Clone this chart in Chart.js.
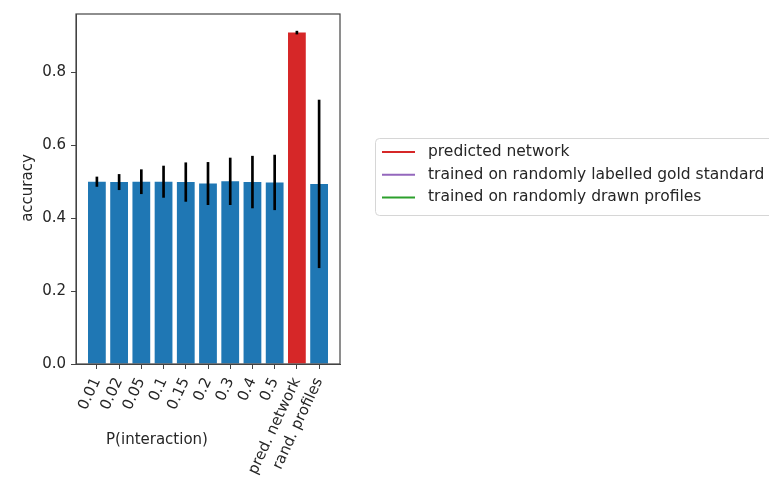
<!DOCTYPE html>
<html>
<head>
<meta charset="utf-8">
<script src="https://cdn.jsdelivr.net/npm/chart.js@4/dist/chart.umd.min.js"></script>
<style>
  html, body { margin: 0; padding: 0; background: #fff; }
  #wrap { width: 769px; height: 481px; }
</style>
</head>
<body>
<div id="wrap"><canvas id="bar-chart" width="769" height="481"></canvas></div>
<script>
// tick labels along the x axis
const labels = ['0.01', '0.02', '0.05', '0.1', '0.15', '0.2', '0.3', '0.4', '0.5', 'pred. network', 'rand. profiles'];
// mean accuracy per bar
const accuracy = [0.500, 0.499, 0.500, 0.500, 0.499, 0.495, 0.501, 0.499, 0.498, 0.909, 0.494];
// half length of the error bars
const errors = [0.013, 0.021, 0.033, 0.043, 0.053, 0.058, 0.064, 0.071, 0.075, 0.004, 0.230];
const barColors = ['#1f77b4', '#1f77b4', '#1f77b4', '#1f77b4', '#1f77b4', '#1f77b4', '#1f77b4', '#1f77b4', '#1f77b4', '#d62728', '#1f77b4'];
const yTicks = [0, 0.2, 0.4, 0.6, 0.8];

const legendLabels = ['predicted network', 'trained on randomly labelled gold standard', 'trained on randomly drawn profiles'];
const legendColors = ['#d62728', '#9467bd', '#2ca02c'];

const FONT = 'DejaVu Sans';
const INK = '#262626';
const AXIS = '#444';

const barData = accuracy.map((v, i) => ({x: i, y: v}));
const errData = accuracy.map((v, i) => ({x: i, y: [v - errors[i], v + errors[i]]}));

// frame, axis titles and the legend
const decorations = {
    id: 'decorations',
    afterDraw(chart) {
        const ctx = chart.ctx;
        const a = chart.chartArea;
        ctx.save();
        ctx.strokeStyle = AXIS;
        ctx.lineWidth = 1.2;
        ctx.strokeRect(a.left, a.top, a.right - a.left, a.bottom - a.top);

        ctx.fillStyle = INK;
        ctx.font = '15px "' + FONT + '"';
        ctx.textAlign = 'center';
        ctx.textBaseline = 'middle';
        ctx.fillText('P(interaction)', 157, 440);

        ctx.save();
        ctx.translate(28, 188);
        ctx.rotate(-Math.PI / 2);
        ctx.fillText('accuracy', 0, 0);
        ctx.restore();

        // legend box
        const bx = 375, by = 138, bw = 410, bh = 77;
        ctx.fillStyle = 'rgba(255,255,255,0.8)';
        ctx.strokeStyle = '#d6d6d6';
        ctx.lineWidth = 1;
        ctx.beginPath();
        ctx.roundRect(bx + 0.5, by + 0.5, bw, bh, 4);
        ctx.fill();
        ctx.stroke();

        ctx.font = '15.5px "' + FONT + '"';
        ctx.textAlign = 'left';
        legendLabels.forEach((t, i) => {
            const yy = 152 + i * 22.7;
            ctx.strokeStyle = legendColors[i];
            ctx.lineWidth = 2;
            ctx.beginPath();
            ctx.moveTo(382, yy);
            ctx.lineTo(415, yy);
            ctx.stroke();
            ctx.fillStyle = INK;
            ctx.fillText(t, 428, yy);
        });
        ctx.restore();
    }
};

new Chart(document.getElementById('bar-chart'), {
    type: 'bar',
    data: {
        datasets: [
            {
                label: 'error',
                data: errData,
                backgroundColor: '#000',
                barThickness: 2,
                grouped: false,
                order: 0
            },
            {
                label: 'accuracy',
                data: barData,
                backgroundColor: barColors,
                barPercentage: 0.8,
                categoryPercentage: 1,
                grouped: false,
                order: 1
            }
        ]
    },
    options: {
        responsive: false,
        animation: false,
        layout: {padding: {left: 0, top: 12, right: 429, bottom: 0}},
        plugins: {legend: {display: false}, tooltip: {enabled: false}},
        scales: {
            x: {
                type: 'linear',
                offset: false,
                min: -0.94,
                max: 10.94,
                afterBuildTicks: s => { s.ticks = labels.map((_, i) => ({value: i})); },
                afterFit: s => { s.height = 117; },
                grid: {offset: false, drawOnChartArea: false, drawTicks: true, tickLength: 5, color: AXIS},
                border: {display: true, color: AXIS},
                ticks: {
                    autoSkip: false,
                    minRotation: 65,
                    maxRotation: 65,
                    padding: 6,
                    color: INK,
                    font: {family: FONT, size: 15},
                    callback: v => labels[v] ?? ''
                }
            },
            y: {
                min: 0,
                max: 0.96,
                afterBuildTicks: s => { s.ticks = yTicks.map(v => ({value: v})); },
                afterFit: s => { s.width = 76; },
                grid: {drawOnChartArea: false, drawTicks: true, tickLength: 5, color: AXIS},
                border: {display: true, color: AXIS},
                ticks: {
                    padding: 5,
                    color: INK,
                    font: {family: FONT, size: 15},
                    callback: v => v.toFixed(1)
                }
            }
        }
    },
    plugins: [decorations]
});
</script>
</body>
</html>
